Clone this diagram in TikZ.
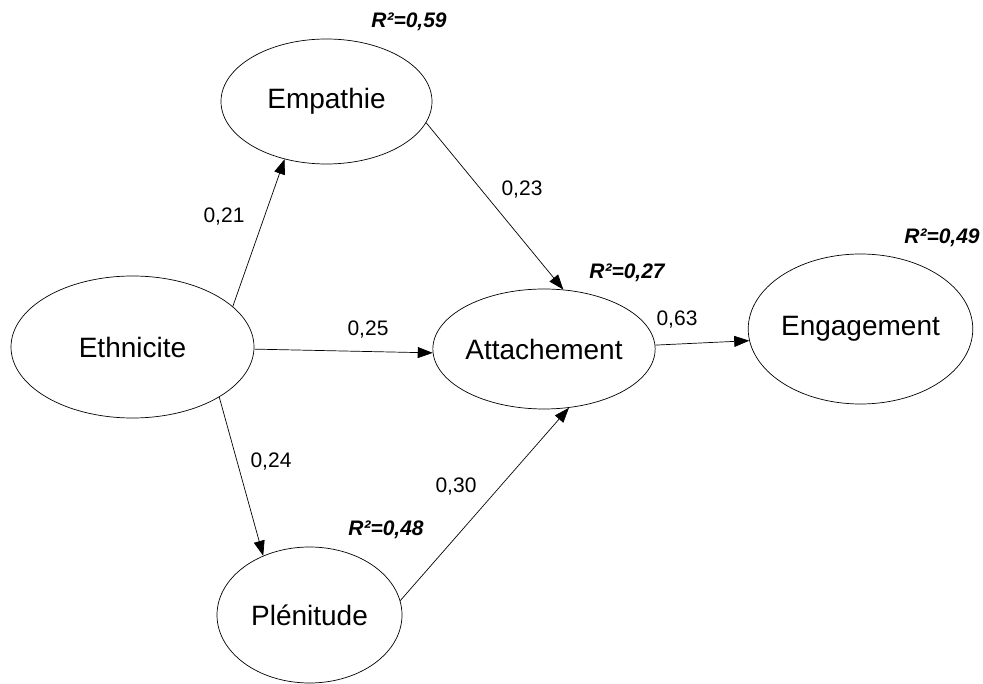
\documentclass[tikz,border=0pt]{standalone}
\usepackage{fontspec}
\setmainfont{Liberation Sans}
\usetikzlibrary{shapes.geometric,arrows.meta}
\begin{document}
\begin{tikzpicture}[x=1pt,y=-1pt,
  construct/.style={draw, ellipse, line width=0.7pt, inner sep=0pt, font=\fontsize{28}{30}\selectfont},
  path/.style={draw, line width=0.7pt, -{Triangle[length=15pt,width=11pt]}},
  coef/.style={font=\fontsize{21}{23}\selectfont, inner sep=0pt},
  rsq/.style={font=\fontsize{21}{23}\selectfont\bfseries\itshape, inner sep=0pt}]
\useasboundingbox (0,0) rectangle (983,684);
\node[construct, minimum width=211pt, minimum height=125pt] (emp) at (326.5,101.5) {Empathie};
\node[construct, minimum width=243pt, minimum height=142pt] (eth) at (132.5,347) {Ethnicite};
\node[construct, minimum width=220pt, minimum height=120pt] (att) at (544,349) {Attachement};
\node[construct, minimum width=215pt, minimum height=150pt] (eng) at (860.5,329) {Engagement};
\node[construct, minimum width=185pt, minimum height=136pt] (ple) at (309.5,615) {Plénitude};

\draw[path] (eth.22.9) -- (emp.234.6);
\draw[path] (eth.-1) -- (att.182);
\draw[path] (eth.-30.8) -- (ple.128.4);
\draw[path] (emp.-12.1) -- (att.72.4);
\draw[path] (ple.9.5) -- (att.-67.9);
\draw[path] (att.2.6) -- (eng.186.9);

\node[coef] (c21) at (224,217) {0,21};
\node[coef] (c25) at (368,330) {0,25};
\node[coef] (c24) at (271,462) {0,24};
\node[coef] (c23) at (522,190) {0,23};
\node[coef] (c30) at (456,487) {0,30};
\node[coef] (c63) at (677,320) {0,63};

\node[rsq] (r59) at (409,22) {R²=0,59};
\node[rsq] (r27) at (627,273) {R²=0,27};
\node[rsq] (r49) at (942,238) {R²=0,49};
\node[rsq] (r48) at (386,530) {R²=0,48};
\end{tikzpicture}
\end{document}
